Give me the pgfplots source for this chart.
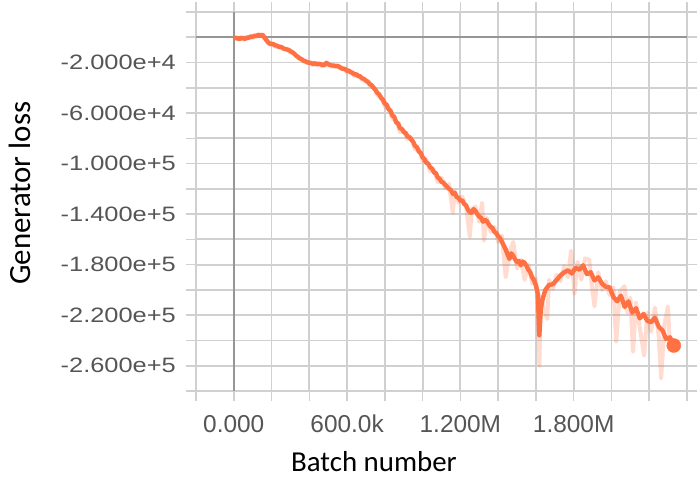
\documentclass[border=0pt]{standalone}
\usepackage{pgfplots}
\pgfplotsset{compat=1.18}
\usepackage{fontspec}
\setmainfont{Liberation Sans}
\newfontfamily\carlito{Carlito}
\definecolor{lineorange}{RGB}{255,112,67}
\definecolor{tickgray}{RGB}{85,85,85}
\definecolor{gridgray}{RGB}{208,208,208}
\definecolor{zerogray}{RGB}{150,150,150}
\newcommand{\yl}[1]{\scalebox{1}[0.82]{#1}}
\begin{document}
\begin{tikzpicture}
\begin{axis}[
  name=ax,
  scale only axis,
  width=491bp, height=379bp,
  xmin=-200, xmax=2400, ymin=-280, ymax=20,
  xtick={-200,0,200,400,600,800,1000,1200,1400,1600,1800,2000,2200,2400},
  xticklabels={,0.000,,,600.0k,,,1.200M,,,1.800M,,,},
  ytick={-280,-260,-240,-220,-200,-180,-160,-140,-120,-100,-80,-60,-40,-20,0,20},
  yticklabels={,\yl{-2.600e+5},,\yl{-2.200e+5},,\yl{-1.800e+5},,\yl{-1.400e+5},,\yl{-1.000e+5},,\yl{-6.000e+4},,\yl{-2.000e+4},,},
  grid=major,
  grid style={gridgray, line width=1.8bp},
  axis line style={gridgray, line width=1.8bp},
  tick align=outside,
  major tick length=10bp,
  tick style={gridgray, line width=1.6bp},
  xticklabel style={font=\fontsize{24.5}{26}\selectfont, text=tickgray, inner sep=0pt, yshift=-14bp},
  yticklabel style={font=\fontsize{25.5}{26}\selectfont, text=tickgray, inner sep=0pt, xshift=-10bp},
  extra x ticks={0}, extra x tick labels={},
  extra y ticks={0}, extra y tick labels={},
  extra tick style={grid style={zerogray, line width=2.4bp}, major tick length=0pt},
  xlabel={Batch number},
  ylabel={Generator loss},
  xlabel style={font=\carlito\fontsize{29}{30}\selectfont, at={(axis description cs:0.3625,-0.2137)}, anchor=base},
  ylabel style={font=\carlito\fontsize{31}{32}\selectfont, at={(axis description cs:-0.358,0.522)}, anchor=center, rotate=0},
]
% raw (unsmoothed) series, drawn faint
\addplot[lineorange, opacity=0.25, line width=4bp, line join=round] coordinates {
(0,-0.5) (20,-1.5) (40,0.2) (60,-2.0) (80,0.5) (100,-0.5) (120,2.0) (140,0.5) (160,2.2) (180,-5.0)
(200,-4.5) (220,-7.5) (240,-7.0) (260,-9.5) (280,-9.0) (300,-12.0) (320,-12.5) (340,-16.5) (360,-17.0) (380,-20.0)
(400,-19.5) (420,-22.0) (440,-20.5) (460,-22.5) (480,-21.0) (500,-20.5) (520,-23.5) (540,-22.0) (560,-24.5) (580,-24.0)
(600,-28.0) (620,-27.0) (640,-31.0) (660,-30.0) (680,-34.0) (700,-33.5) (720,-38.5) (740,-39.0) (760,-46.0) (780,-47.0)
(800,-55.0) (820,-56.0) (840,-64.5) (860,-66.0) (880,-75.0) (900,-73.5) (920,-81.0) (940,-79.5) (960,-89.0) (980,-88.5)
(1000,-98.0) (1020,-97.0) (1040,-106.0) (1060,-104.5) (1080,-115.0) (1100,-111.0) (1120,-119.5) (1140,-116.0) (1160,-139.0) (1170,-122.0)
(1190,-131.0) (1210,-126.0) (1230,-134.0) (1250,-158.0) (1260,-136.0) (1280,-134.0) (1300,-146.0) (1315,-131.0) (1325,-161.0) (1340,-143.0)
(1360,-154.0) (1380,-150.0) (1400,-162.0) (1420,-157.0) (1440,-190.0) (1460,-170.0) (1480,-162.0) (1500,-183.0) (1520,-176.0) (1540,-192.0)
(1560,-180.0) (1580,-195.0) (1600,-191.0) (1610,-210.0) (1618,-260.0) (1626,-205.0) (1640,-214.0) (1660,-223.0) (1670,-192.0) (1690,-199.0)
(1710,-188.0) (1730,-193.0) (1750,-181.0) (1770,-190.0) (1786,-169.0) (1804,-203.0) (1820,-178.0) (1840,-192.0) (1860,-175.0) (1882,-176.0)
(1895,-195.0) (1910,-213.0) (1930,-186.0) (1950,-200.0) (1970,-193.0) (1990,-204.0) (2010,-198.0) (2025,-241.0) (2045,-201.0) (2069,-197.0)
(2085,-218.0) (2100,-206.0) (2114,-249.0) (2130,-210.0) (2150,-230.0) (2173,-252.0) (2190,-218.0) (2210,-233.0) (2230,-214.0) (2250,-236.0)
(2263,-270.0) (2280,-228.0) (2299,-213.0) (2310,-245.0) (2330,-246.0)
};
% smoothed series
\addplot[lineorange, line width=4.4bp, line join=round] coordinates {
(0,-1.0) (10,-0.4) (20,-0.8) (30,-1.5) (40,-0.5) (50,-0.9) (60,-1.2) (70,-0.2) (80,-0.4) (90,0.6)
(100,0.4) (110,1.2) (120,0.8) (130,2.0) (140,1.5) (150,1.9) (160,0.3) (170,-1.8) (180,-3.5) (190,-5.0)
(200,-5.5) (210,-5.4) (220,-6.5) (230,-6.6) (240,-7.8) (250,-7.6) (260,-8.5) (270,-9.3) (280,-9.6) (290,-10.0)
(300,-11.0) (310,-11.8) (320,-13.0) (330,-14.6) (340,-15.5) (350,-16.8) (360,-17.5) (370,-18.6) (380,-19.0) (390,-19.9)
(400,-20.2) (410,-20.5) (420,-21.0) (430,-20.6) (440,-21.5) (450,-21.0) (460,-21.2) (470,-22.2) (480,-22.0) (490,-20.2)
(500,-21.3) (510,-22.1) (520,-22.3) (530,-22.4) (540,-23.0) (550,-22.6) (560,-23.5) (570,-24.6) (580,-25.0) (590,-25.2)
(600,-26.5) (610,-26.4) (620,-27.8) (630,-28.2) (640,-29.5) (650,-29.3) (660,-30.8) (670,-31.0) (680,-32.5) (690,-33.0)
(700,-34.5) (710,-35.2) (720,-37.0) (730,-38.0) (740,-40.0) (750,-41.5) (760,-44.0) (770,-45.2) (780,-48.0) (790,-49.5)
(800,-52.5) (810,-53.5) (820,-57.0) (830,-58.2) (840,-62.0) (850,-63.0) (860,-67.5) (870,-68.0) (880,-72.0) (890,-72.5)
(900,-75.0) (910,-75.8) (920,-78.5) (930,-79.0) (940,-81.0) (950,-82.8) (960,-86.0) (970,-87.0) (980,-90.5) (990,-91.5)
(1000,-95.0) (1010,-96.5) (1020,-99.5) (1030,-100.0) (1040,-103.0) (1050,-104.0) (1060,-107.0) (1070,-107.5) (1080,-111.0) (1090,-112.0)
(1100,-114.5) (1110,-115.0) (1120,-117.0) (1130,-118.5) (1140,-120.0) (1150,-121.0) (1160,-124.0) (1170,-123.0) (1180,-126.5) (1190,-127.0)
(1200,-129.5) (1210,-129.0) (1220,-132.0) (1230,-133.0) (1240,-136.5) (1250,-138.5) (1260,-139.0) (1270,-136.0) (1280,-137.5) (1290,-140.0)
(1300,-142.0) (1310,-143.0) (1320,-146.0) (1330,-144.5) (1340,-145.5) (1350,-148.0) (1360,-150.0) (1370,-151.0) (1380,-154.0) (1390,-155.0)
(1400,-157.5) (1410,-159.0) (1420,-162.0) (1430,-165.0) (1440,-168.0) (1450,-172.0) (1460,-175.5) (1470,-171.0) (1480,-173.0) (1490,-176.0)
(1500,-178.0) (1510,-177.0) (1520,-180.5) (1530,-177.5) (1540,-178.5) (1550,-181.0) (1560,-184.0) (1570,-186.0) (1580,-190.0) (1590,-192.5)
(1600,-196.5) (1610,-203.0) (1618,-236.0) (1626,-215.0) (1636,-207.0) (1650,-200.0) (1670,-196.0) (1690,-195.5) (1710,-192.0) (1730,-188.5)
(1750,-186.0) (1770,-184.5) (1790,-187.0) (1810,-182.5) (1830,-184.0) (1850,-180.5) (1870,-187.5) (1890,-186.0) (1910,-192.5) (1930,-190.0)
(1950,-195.0) (1970,-197.5) (1990,-198.0) (2010,-205.5) (2030,-209.0) (2050,-204.5) (2070,-213.5) (2090,-209.0) (2110,-218.0) (2130,-214.5)
(2150,-222.5) (2170,-219.0) (2190,-224.5) (2210,-225.5) (2230,-222.0) (2250,-229.0) (2270,-232.0) (2290,-239.0) (2310,-237.5) (2330,-244.0)
};
\addplot[only marks, mark=*, mark size=7bp, lineorange] coordinates {(2330,-244.0)};
\end{axis}
\pgfresetboundingbox
\path (ax.south west) ++(-196bp,-95bp) rectangle ++(698bp,486bp);
\end{tikzpicture}
\end{document}
